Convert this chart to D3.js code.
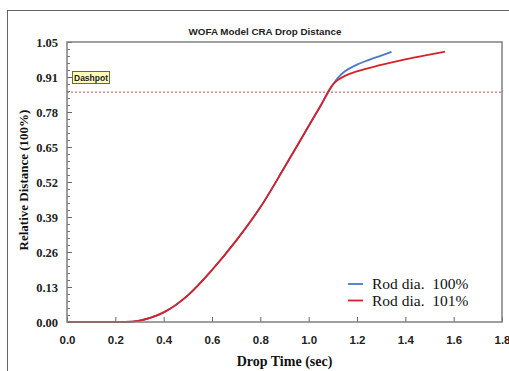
<!DOCTYPE html>
<html>
<head>
<meta charset="utf-8">
<script src="https://cdn.jsdelivr.net/npm/d3@7"></script>
<style>
  body { margin: 0; background: #fff; }
  svg { display: block; }
</style>
</head>
<body>
<div id="chart"></div>
<script>
// values
var timeRod100 = [0, 0.24, 0.3, 0.35, 0.4, 0.5, 0.6, 0.7, 0.8, 0.9, 1.0, 1.05, 1.1, 1.12, 1.15, 1.2, 1.25, 1.3, 1.343];
var distRod100 = [0, 0, 0.005, 0.017, 0.036, 0.1, 0.195, 0.305, 0.43, 0.58, 0.735, 0.812, 0.89, 0.915, 0.94, 0.965, 0.983, 0.999, 1.013];
var timeRod101 = [0, 0.24, 0.3, 0.35, 0.4, 0.5, 0.6, 0.7, 0.8, 0.9, 1.0, 1.05, 1.1, 1.12, 1.15, 1.2, 1.3, 1.4, 1.5, 1.564];
var distRod101 = [0, 0, 0.005, 0.017, 0.036, 0.1, 0.195, 0.305, 0.43, 0.58, 0.735, 0.812, 0.89, 0.907, 0.923, 0.94, 0.964, 0.985, 1.003, 1.014];
var seriesNames = ["Rod dia.  100%", "Rod dia.  101%"];
var seriesColors = ["#4a78c8", "#d42228"];
var xTickLabels = ["0.0", "0.2", "0.4", "0.6", "0.8", "1.0", "1.2", "1.4", "1.6", "1.8"];
var yTickLabels = ["0.00", "0.13", "0.26", "0.39", "0.52", "0.65", "0.78", "0.91", "1.05"];
var dashpotLevel = 0.862;

var W = 509, H = 371;
var plotL = 67, plotR = 502, plotT = 42, plotB = 322;

var svg = d3.select("#chart").append("svg")
    .attr("width", W)
    .attr("height", H);

// outer frame
svg.append("rect")
    .attr("x", 7.5).attr("y", 10.5)
    .attr("width", 520).attr("height", 400)
    .attr("fill", "#fff")
    .attr("stroke", "#666").attr("stroke-width", 1);

var x = d3.scaleLinear().domain([0, 1.8]).range([plotL, plotR]);
var y = d3.scaleLinear().domain([0, 1.05]).range([plotB, plotT]);

var xTickVals = xTickLabels.map(function(d){ return +d; });
var yTickVals = yTickLabels.map(function(d, i){ return i * 1.05 / 8; });

// minor y ticks
var yMinor = d3.range(0, 41).map(function(i){ return i * 1.05 / 40; });
svg.append("g")
    .attr("transform", "translate(" + plotL + ",0)")
    .call(d3.axisRight(y).tickValues(yMinor).tickSize(3).tickFormat(""))
    .call(function(g){ g.select(".domain").remove(); g.selectAll("line").attr("stroke", "#777"); });

// major y ticks with labels on the left
var yAxis = svg.append("g")
    .attr("transform", "translate(" + plotL + ",0)")
    .call(d3.axisRight(y).tickValues(yTickVals).tickSize(5)
        .tickFormat(function(d, i){ return yTickLabels[i]; }));
yAxis.select(".domain").remove();
yAxis.selectAll("line").attr("stroke", "#666");
yAxis.selectAll("text")
    .attr("x", -9).attr("text-anchor", "end")
    .style("font-family", "'Liberation Serif', 'Times New Roman', serif")
    .style("font-weight", "bold").style("font-size", "12.5px").attr("fill", "#222");

var xAxis = svg.append("g")
    .attr("transform", "translate(0," + plotB + ")")
    .call(d3.axisTop(x).tickValues(xTickVals).tickSize(5)
        .tickFormat(function(d, i){ return xTickLabels[i]; }));
xAxis.select(".domain").remove();
xAxis.selectAll("line").attr("stroke", "#666");
xAxis.selectAll("text")
    .attr("y", 22)
    .style("font-family", "'Liberation Sans', Arial, sans-serif")
    .style("font-weight", "bold").style("font-size", "11.5px").attr("fill", "#222");

// dashpot line
svg.append("line")
    .attr("x1", plotL).attr("x2", plotR)
    .attr("y1", y(dashpotLevel)).attr("y2", y(dashpotLevel))
    .attr("stroke", "#d04a4a").attr("stroke-width", 1)
    .attr("stroke-dasharray", "2,2");

// curves
var line = d3.line()
    .x(function(d){ return x(d[0]); })
    .y(function(d){ return y(d[1]); })
    .curve(d3.curveMonotoneX);

var series = [
  { t: timeRod100, v: distRod100 },
  { t: timeRod101, v: distRod101 }
];
series.forEach(function(s, k){
  var pts = s.t.map(function(t, i){ return [t, s.v[i]]; });
  svg.append("path")
      .datum(pts)
      .attr("d", line)
      .attr("fill", "none")
      .attr("stroke", seriesColors[k])
      .attr("stroke-width", 1.8);
});

// plot border
svg.append("rect")
    .attr("x", plotL).attr("y", plotT)
    .attr("width", plotR - plotL).attr("height", plotB - plotT)
    .attr("fill", "none")
    .attr("stroke", "#808080").attr("stroke-width", 1.5);

// dashpot label
svg.append("rect")
    .attr("x", 72.5).attr("y", 71.5)
    .attr("width", 37).attr("height", 12)
    .attr("fill", "#ffffb8").attr("stroke", "#6b6b30").attr("stroke-width", 1);
svg.append("text")
    .attr("x", 91).attr("y", 80.5)
    .attr("text-anchor", "middle")
    .style("font-family", "'Liberation Sans', Arial, sans-serif")
    .style("font-weight", "bold").style("font-size", "8.5px")
    .attr("fill", "#222")
    .text("Dashpot");

// title
svg.append("text")
    .attr("x", 265).attr("y", 35)
    .attr("text-anchor", "middle")
    .style("font-family", "'Liberation Sans', Arial, sans-serif")
    .style("font-weight", "bold").style("font-size", "9.8px")
    .attr("fill", "#222")
    .text("WOFA Model CRA Drop Distance");

// axis titles
svg.append("text")
    .attr("x", (plotL + plotR) / 2).attr("y", 366)
    .attr("text-anchor", "middle")
    .style("font-family", "'Liberation Serif', 'Times New Roman', serif")
    .style("font-weight", "bold").style("font-size", "14px")
    .attr("fill", "#111")
    .text("Drop Time (sec)");

svg.append("text")
    .attr("transform", "translate(28," + ((plotT + plotB) / 2 - 2) + ") rotate(-90)")
    .attr("text-anchor", "middle")
    .style("font-family", "'Liberation Serif', 'Times New Roman', serif")
    .style("font-weight", "bold").style("font-size", "13px")
    .attr("fill", "#111")
    .text("Relative Distance (100%)");

// legend
var legend = svg.append("g");
seriesNames.forEach(function(name, i){
  var ly = 284 + i * 16.5;
  legend.append("line")
      .attr("x1", 348).attr("x2", 363)
      .attr("y1", ly).attr("y2", ly)
      .attr("stroke", seriesColors[i]).attr("stroke-width", 1.8);
  legend.append("text")
      .attr("x", 372).attr("y", ly + 5)
      .style("font-family", "'Liberation Serif', 'Times New Roman', serif")
      .style("font-size", "15.5px")
      .style("white-space", "pre")
      .attr("fill", "#111")
      .text(name);
});
</script>
</body>
</html>
